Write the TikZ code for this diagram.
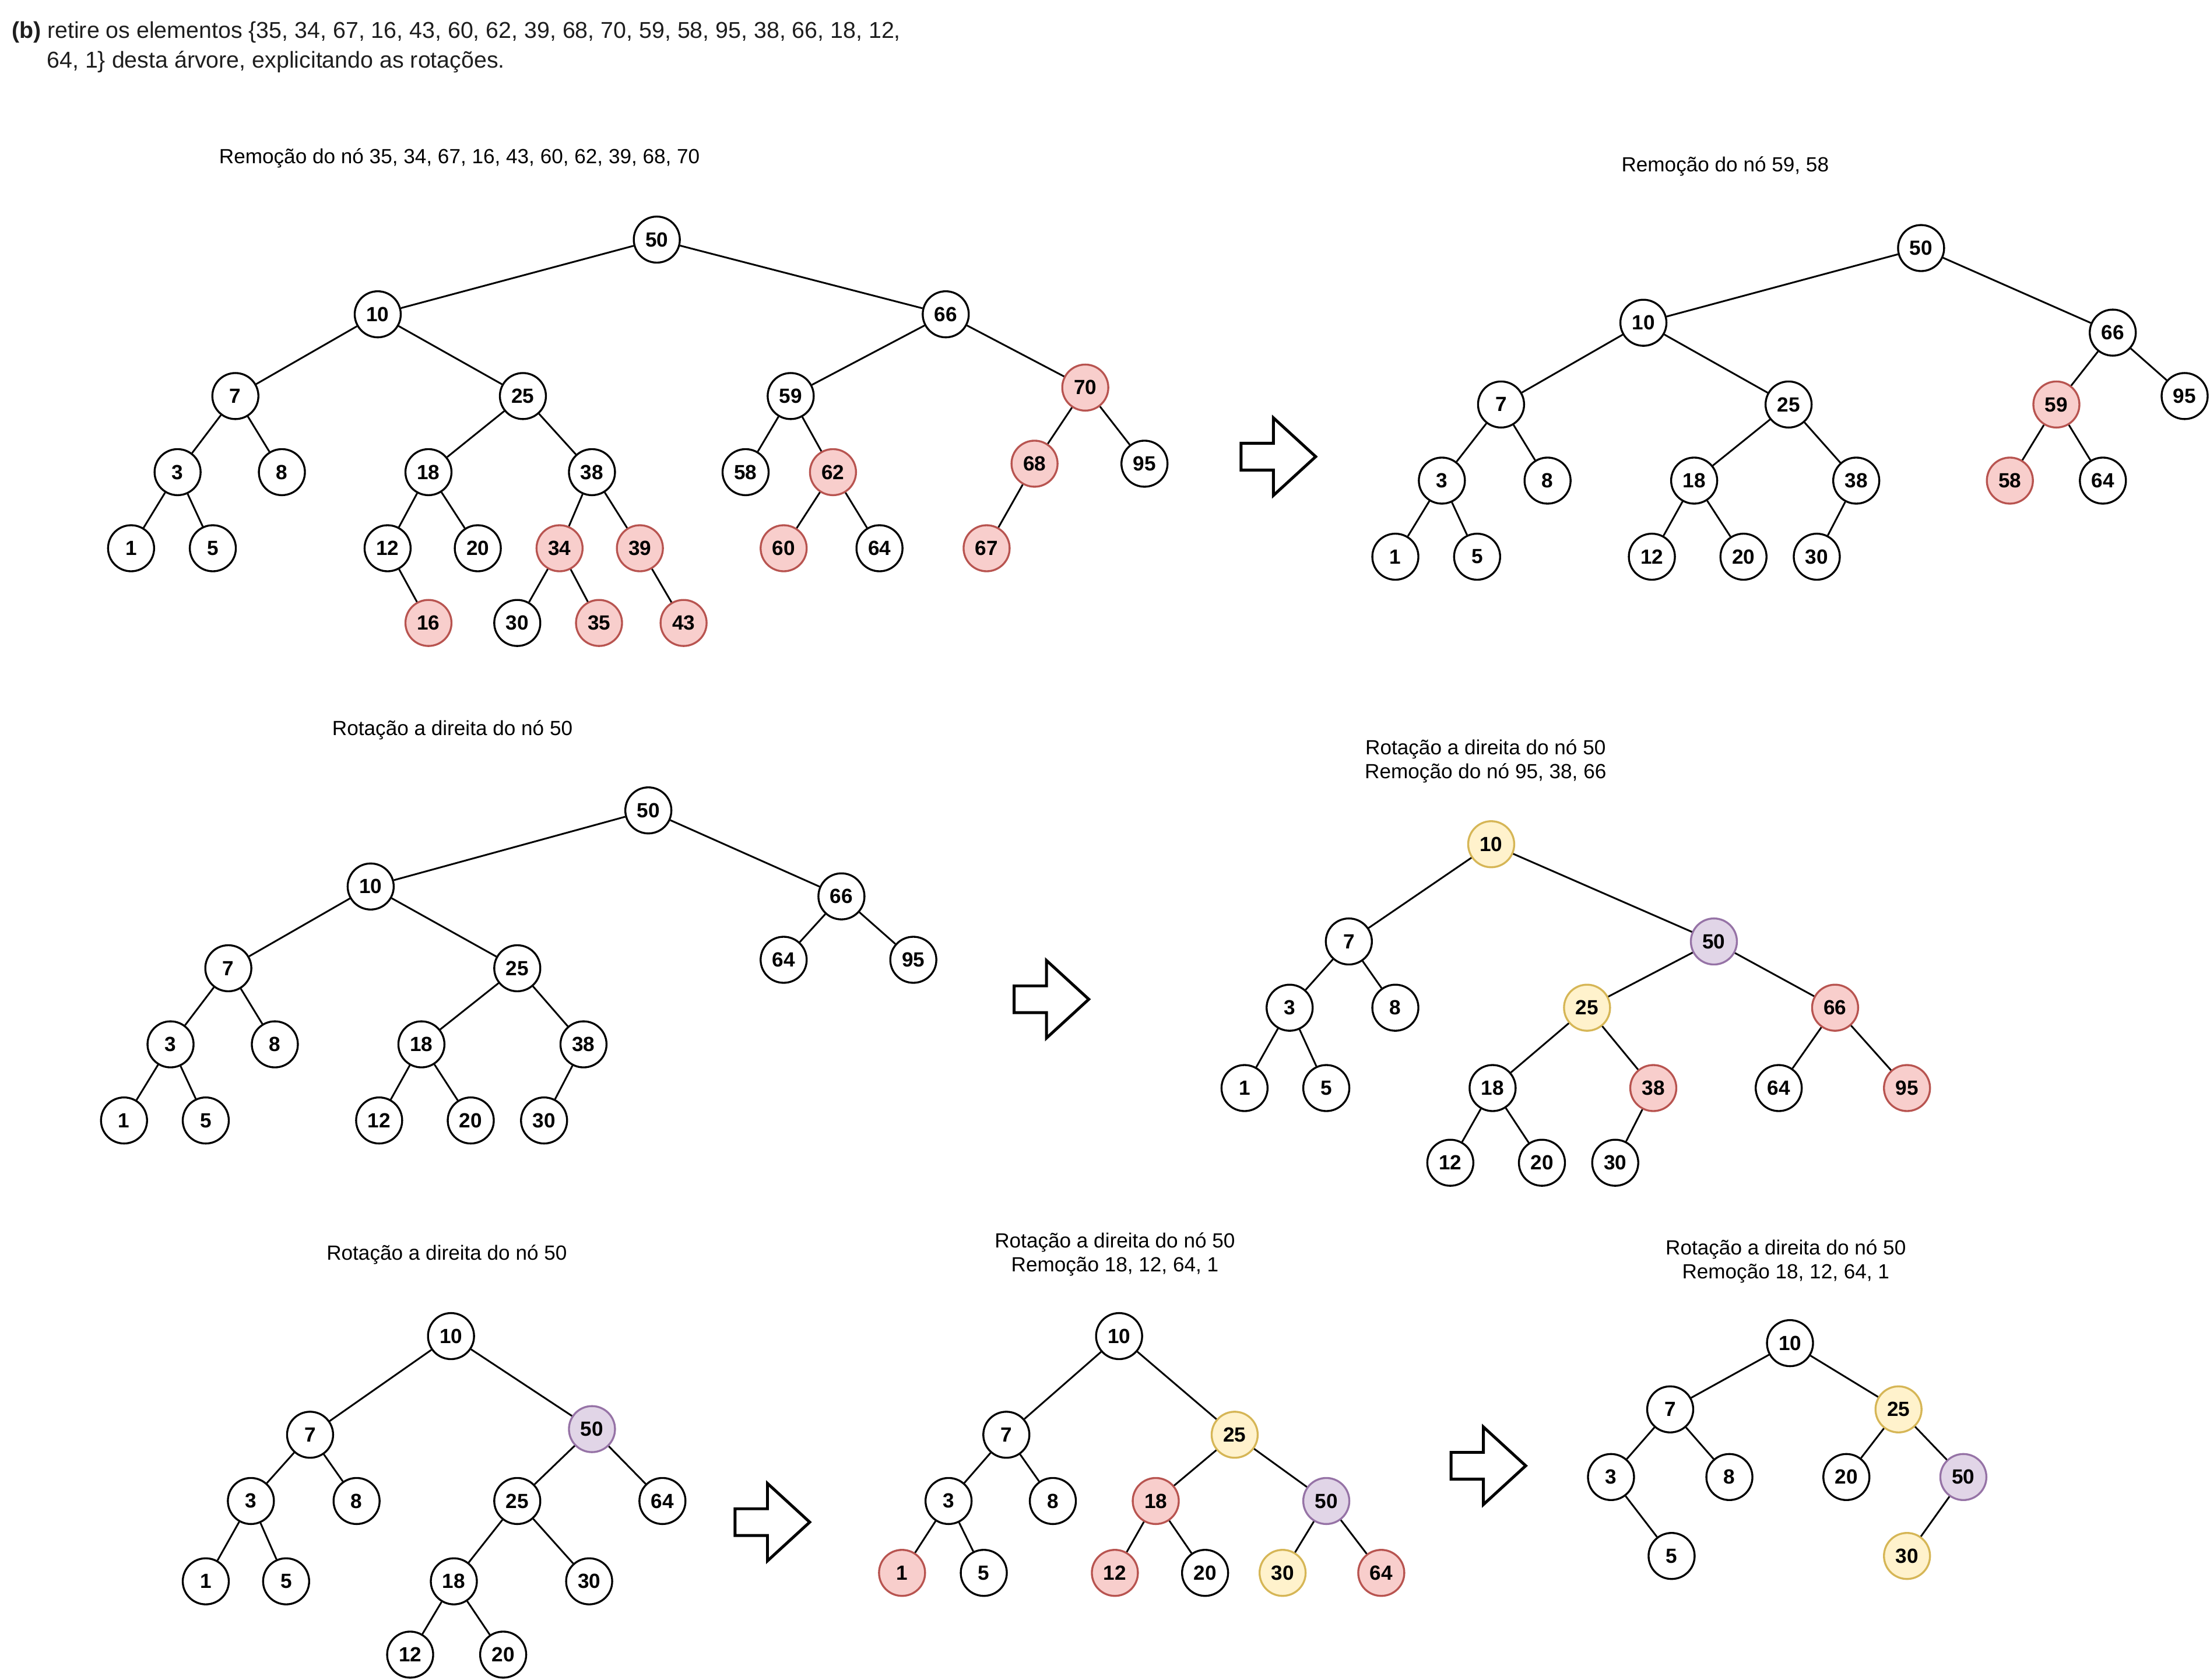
\documentclass[tikz,border=0pt]{standalone}
\usepackage{fontspec}
\setmainfont{Liberation Sans}
\definecolor{redfill}{HTML}{F8CECC}
\definecolor{redline}{HTML}{B85450}
\definecolor{yelfill}{HTML}{FFF2CC}
\definecolor{yelline}{HTML}{D6B656}
\definecolor{purfill}{HTML}{E1D5E7}
\definecolor{purline}{HTML}{9673A6}
\definecolor{headgray}{HTML}{1E1E1E}
\begin{document}
\begin{tikzpicture}[x=0.2418mm,y=-0.2418mm,
  nd/.style={circle,draw=black,fill=white,line width=0.95pt,minimum size=0.79cm,inner sep=0pt,
    font=\bfseries\fontsize{10}{12}\selectfont},
  rd/.style={nd,fill=redfill,draw=redline},
  yl/.style={nd,fill=yelfill,draw=yelline},
  pu/.style={nd,fill=purfill,draw=purline},
  edge/.style={line width=0.85pt,black},
  ttl/.style={font=\fontsize{10}{11.6}\selectfont,align=center},
  blockarrow/.style={line width=1.4pt,black,fill=white,line join=miter}]
\useasboundingbox (0,0) rectangle (1568,1192);

% heading
\node[anchor=base west,inner sep=0pt,text=headgray,font=\fontsize{11.2}{13}\selectfont] (hd1) at (8,27)
  {\textbf{(b)} retire os elementos \{35, 34, 67, 16, 43, 60, 62, 39, 68, 70, 59, 58, 95, 38, 66, 18, 12,};
\node[anchor=base west,inner sep=0pt,text=headgray,font=\fontsize{11.2}{13}\selectfont] (hd2) at (33,48)
  {64, 1\} desta árvore, explicitando as rotações.};

% ---------- tree A ----------
\node[ttl] (ta) at (326,112) {Remoção do nó 35, 34, 67, 16, 43, 60, 62, 39, 68, 70};
\node[nd] (a50) at (466,170) {50};
\node[nd] (a10) at (268,223) {10};
\node[nd] (a66) at (671,223) {66};
\node[nd] (a7) at (167,281) {7};
\node[nd] (a25) at (371,281) {25};
\node[nd] (a59) at (561,281) {59};
\node[rd] (a70) at (770,275) {70};
\node[nd] (a3) at (126,335) {3};
\node[nd] (a8) at (200,335) {8};
\node[nd] (a18) at (304,335) {18};
\node[nd] (a38) at (420,335) {38};
\node[nd] (a58) at (529,335) {58};
\node[rd] (a62) at (591,335) {62};
\node[rd] (a68) at (734,329) {68};
\node[nd] (a95) at (812,329) {95};
\node[nd] (a1) at (93,389) {1};
\node[nd] (a5) at (151,389) {5};
\node[nd] (a12) at (275,389) {12};
\node[nd] (a20) at (339,389) {20};
\node[rd] (a34) at (397,389) {34};
\node[rd] (a39) at (454,389) {39};
\node[rd] (a60) at (556,389) {60};
\node[nd] (a64) at (624,389) {64};
\node[rd] (a67) at (700,389) {67};
\node[rd] (a16) at (304,442) {16};
\node[nd] (a30) at (367,442) {30};
\node[rd] (a35) at (425,442) {35};
\node[rd] (a43) at (485,442) {43};
\foreach \p/\c in {a50/a10,a50/a66,a10/a7,a10/a25,a7/a3,a7/a8,a3/a1,a3/a5,a25/a18,a25/a38,
  a18/a12,a18/a20,a12/a16,a38/a34,a38/a39,a34/a30,a34/a35,a39/a43,a66/a59,a66/a70,
  a59/a58,a59/a62,a62/a60,a62/a64,a70/a68,a70/a95,a68/a67}
  \draw[edge] (\p) -- (\c);

% ---------- tree B ----------
\node[ttl] (tb) at (1224,118) {Remoção do nó 59, 58};
\node[nd] (b50) at (1363,176) {50};
\node[nd] (b10) at (1166,229) {10};
\node[nd] (b66) at (1499,236) {66};
\node[nd] (b7) at (1065,287) {7};
\node[nd] (b25) at (1269,287) {25};
\node[rd] (b59) at (1459,287) {59};
\node[nd] (b95) at (1550,281) {95};
\node[nd] (b3) at (1023,341) {3};
\node[nd] (b8) at (1098,341) {8};
\node[nd] (b18) at (1202,341) {18};
\node[nd] (b38) at (1317,341) {38};
\node[rd] (b58) at (1426,341) {58};
\node[nd] (b64) at (1492,341) {64};
\node[nd] (b1) at (990,395) {1};
\node[nd] (b5) at (1048,395) {5};
\node[nd] (b12) at (1172,395) {12};
\node[nd] (b20) at (1237,395) {20};
\node[nd] (b30) at (1289,395) {30};
\foreach \p/\c in {b50/b10,b50/b66,b10/b7,b10/b25,b7/b3,b7/b8,b3/b1,b3/b5,b25/b18,b25/b38,
  b18/b12,b18/b20,b38/b30,b66/b59,b66/b95,b59/b58,b59/b64}
  \draw[edge] (\p) -- (\c);

% ---------- tree C ----------
\node[ttl] (tc) at (321,518) {Rotação a direita do nó 50};
\node[nd] (c50) at (460,575) {50};
\node[nd] (c10) at (263,629) {10};
\node[nd] (c66) at (597,636) {66};
\node[nd] (c7) at (162,687) {7};
\node[nd] (c25) at (367,687) {25};
\node[nd] (c64) at (556,681) {64};
\node[nd] (c95) at (648,681) {95};
\node[nd] (c3) at (121,741) {3};
\node[nd] (c8) at (195,741) {8};
\node[nd] (c18) at (299,741) {18};
\node[nd] (c38) at (414,741) {38};
\node[nd] (c1) at (88,795) {1};
\node[nd] (c5) at (146,795) {5};
\node[nd] (c12) at (269,795) {12};
\node[nd] (c20) at (334,795) {20};
\node[nd] (c30) at (386,795) {30};
\foreach \p/\c in {c50/c10,c50/c66,c10/c7,c10/c25,c7/c3,c7/c8,c3/c1,c3/c5,c25/c18,c25/c38,
  c18/c12,c18/c20,c38/c30,c66/c64,c66/c95}
  \draw[edge] (\p) -- (\c);

% ---------- tree D ----------
\node[ttl] (td) at (1054,540) {Rotação a direita do nó 50\\Remoção do nó 95, 38, 66};
\node[yl] (d10) at (1058,599) {10};
\node[nd] (d7) at (957,668) {7};
\node[pu] (d50) at (1216,668) {50};
\node[nd] (d3) at (915,715) {3};
\node[nd] (d8) at (990,715) {8};
\node[yl] (d25) at (1126,715) {25};
\node[rd] (d66) at (1302,715) {66};
\node[nd] (d1) at (883,772) {1};
\node[nd] (d5) at (941,772) {5};
\node[nd] (d18) at (1059,772) {18};
\node[rd] (d38) at (1173,772) {38};
\node[nd] (d64) at (1262,772) {64};
\node[rd] (d95) at (1353,772) {95};
\node[nd] (d12) at (1029,825) {12};
\node[nd] (d20) at (1094,825) {20};
\node[nd] (d30) at (1146,825) {30};
\foreach \p/\c in {d10/d7,d10/d50,d7/d3,d7/d8,d3/d1,d3/d5,d50/d25,d50/d66,d25/d18,d25/d38,
  d18/d12,d18/d20,d38/d30,d66/d64,d66/d95}
  \draw[edge] (\p) -- (\c);

% ---------- tree E ----------
\node[ttl] (te) at (317,890) {Rotação a direita do nó 50};
\node[nd] (e10) at (320,948) {10};
\node[nd] (e7) at (220,1018) {7};
\node[pu] (e50) at (420,1014) {50};
\node[nd] (e3) at (178,1065) {3};
\node[nd] (e8) at (253,1065) {8};
\node[nd] (e25) at (367,1065) {25};
\node[nd] (e64) at (470,1065) {64};
\node[nd] (e1) at (146,1122) {1};
\node[nd] (e5) at (203,1122) {5};
\node[nd] (e18) at (322,1122) {18};
\node[nd] (e30) at (418,1122) {30};
\node[nd] (e12) at (291,1174) {12};
\node[nd] (e20) at (357,1174) {20};
\foreach \p/\c in {e10/e7,e10/e50,e7/e3,e7/e8,e3/e1,e3/e5,e50/e25,e50/e64,e25/e18,e25/e30,
  e18/e12,e18/e20}
  \draw[edge] (\p) -- (\c);

% ---------- tree F ----------
\node[ttl] (tf) at (791,890) {Rotação a direita do nó 50\\Remoção 18, 12, 64, 1};
\node[nd] (f10) at (794,948) {10};
\node[nd] (f7) at (714,1018) {7};
\node[yl] (f25) at (876,1018) {25};
\node[nd] (f3) at (673,1065) {3};
\node[nd] (f8) at (747,1065) {8};
\node[rd] (f18) at (820,1065) {18};
\node[pu] (f50) at (941,1065) {50};
\node[rd] (f1) at (640,1116) {1};
\node[nd] (f5) at (698,1116) {5};
\node[rd] (f12) at (791,1116) {12};
\node[nd] (f20) at (855,1116) {20};
\node[yl] (f30) at (910,1116) {30};
\node[rd] (f64) at (980,1116) {64};
\foreach \p/\c in {f10/f7,f10/f25,f7/f3,f7/f8,f3/f1,f3/f5,f25/f18,f25/f50,f18/f12,f18/f20,
  f50/f30,f50/f64}
  \draw[edge] (\p) -- (\c);

% ---------- tree G ----------
\node[ttl] (tg) at (1267,895) {Rotação a direita do nó 50\\Remoção 18, 12, 64, 1};
\node[nd] (g10) at (1270,953) {10};
\node[nd] (g7) at (1185,1000) {7};
\node[yl] (g25) at (1347,1000) {25};
\node[nd] (g3) at (1143,1048) {3};
\node[nd] (g8) at (1227,1048) {8};
\node[nd] (g20) at (1310,1048) {20};
\node[pu] (g50) at (1393,1048) {50};
\node[nd] (g5) at (1186,1104) {5};
\node[yl] (g30) at (1353,1104) {30};
\foreach \p/\c in {g10/g7,g10/g25,g7/g3,g7/g8,g3/g5,g25/g20,g25/g50,g50/g30}
  \draw[edge] (\p) -- (\c);

% ---------- block arrows between steps ----------
\foreach \cx/\cy in {907/324, 746/709, 548/1080, 1056/1040}
  \draw[blockarrow] (\cx-26.5,\cy-9.5) -- (\cx-3.5,\cy-9.5) -- (\cx-3.5,\cy-27.5)
    -- (\cx+26.5,\cy) -- (\cx-3.5,\cy+27.5) -- (\cx-3.5,\cy+9.5) -- (\cx-26.5,\cy+9.5) -- cycle;
\end{tikzpicture}
\end{document}
